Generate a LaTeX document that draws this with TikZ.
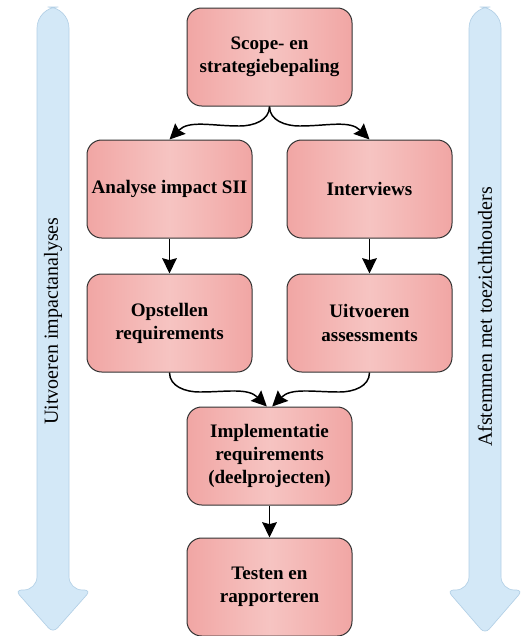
\documentclass[tikz,border=0pt]{standalone}
\usepackage{fontspec}
\setmainfont{Liberation Serif}
\usetikzlibrary{arrows.meta}
\definecolor{boxedge}{HTML}{F1A6A4}
\definecolor{boxmid}{HTML}{F6C4C2}
\definecolor{sideblue}{HTML}{D3E8F7}
\definecolor{sideline}{HTML}{B3D0E6}
\begin{document}
\begin{tikzpicture}[x=0.75pt, y=0.75pt,
    stepbox/.style={draw=black!80, line width=0.75pt, rounded corners=11pt,
      left color=boxedge, right color=boxedge, middle color=boxmid,
      minimum width=123.75pt, minimum height=73.5pt, align=center, inner sep=2pt,
      font=\fontsize{14.3}{17.3}\selectfont\bfseries},
    conn/.style={-{Stealth[length=11.5pt, width=11pt, inset=1.5pt]}, line width=1.1pt},
    sidearrow/.style={fill=sideblue, draw=sideline, line width=0.5pt},
    sidetext/.style={font=\fontsize{15}{18}\selectfont, rotate=90}]
  \useasboundingbox (0,0) rectangle (529,-636);
  % side arrows
  \draw[sidearrow] (37,-300) [rounded corners=16pt] -- (37,-7) -- (69,-7)
    [rounded corners=10pt] -- (69,-590) [rounded corners=5pt] -- (91,-590)
    -- (53,-633) -- (15,-590) [rounded corners=10pt] -- (37,-590) [sharp corners] -- cycle;
  \draw[sidearrow] (469,-300) [rounded corners=16pt] -- (469,-7) -- (501,-7)
    [rounded corners=10pt] -- (501,-590) [rounded corners=5pt] -- (523,-590)
    -- (485,-634) -- (447,-590) [rounded corners=10pt] -- (469,-590) [sharp corners] -- cycle;
  \node[sidetext] (impactanalyses) at (53,-321) {Uitvoeren impactanalyses};
  \node[sidetext] (toezicht) at (485,-317) {Afstemmen met toezichthouders};

  % steps
  \node[stepbox] (scope) at (269.5,-57) {Scope- en\\strategiebepaling};
  \node[stepbox] (analyse) at (169.5,-189) {Analyse impact SII};
  \node[stepbox] (interviews) at (369.5,-189) {Interviews};
  \node[stepbox] (opstellen) at (169.5,-323) {Opstellen\\requirements};
  \node[stepbox] (assessments) at (369.5,-323) {Uitvoeren\\assessments};
  \node[stepbox] (implementatie) at (269.5,-456) {Implementatie\\requirements\\(deelprojecten)};
  \node[stepbox] (testen) at (269.5,-587) {Testen en\\rapporteren};

  % connectors
  \draw[conn] (scope.south) to[out=-90, in=0] (239.5,-126) to[out=180, in=45] (analyse.north);
  \draw[conn] (scope.south) to[out=-90, in=180] (299.5,-126) to[out=0, in=135] (interviews.north);
  \draw[conn] (analyse.south) -- (opstellen.north);
  \draw[conn] (interviews.south) -- (assessments.north);
  \draw[conn] (opstellen.south) to[out=-90, in=180] (199.5,-392) to[out=0, in=135] ([xshift=-2pt]implementatie.north);
  \draw[conn] (assessments.south) to[out=-90, in=0] (339.5,-392) to[out=180, in=45] ([xshift=2pt]implementatie.north);
  \draw[conn] (implementatie.south) -- (testen.north);
\end{tikzpicture}
\end{document}
